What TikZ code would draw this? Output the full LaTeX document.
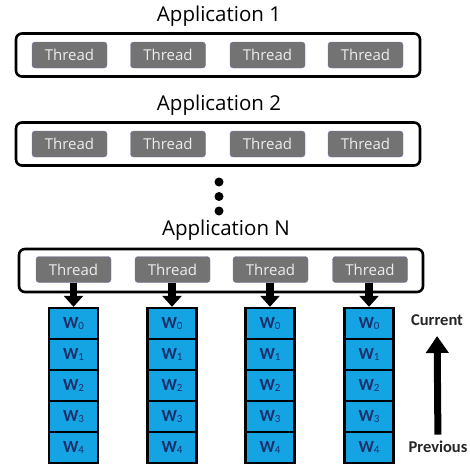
\documentclass[tikz,border=0pt]{standalone}
\usepackage{fontspec}
\setmainfont{Open Sans}
\newfontfamily\calfont{Carlito}
\usetikzlibrary{arrows.meta}
\definecolor{threadgray}{HTML}{737373}
\definecolor{cellblue}{HTML}{14A3E3}
\definecolor{wnavy}{HTML}{1B2F6A}
\tikzset{
    app/.style={draw, line width=2.6pt, rounded corners=6pt, minimum width=404pt, minimum height=43pt},
    thread/.style={fill=threadgray, draw=threadgray!75!blue!80!white, rounded corners=3pt, minimum width=75pt, minimum height=26pt, inner sep=0pt, text=white!93!black, font=\fontsize{15}{15}\selectfont},
    cell/.style={draw, fill=cellblue, line width=2.4pt, minimum width=49pt, minimum height=31pt, inner sep=0pt, text=wnavy, font=\calfont\bfseries\fontsize{17}{17}\selectfont},
    apptitle/.style={font=\fontsize{20.5}{20.5}\selectfont},
    push/.style={-{Triangle[width=19pt,length=11pt]}, line width=7.5pt},
    timeline/.style={-{Triangle[width=22pt,length=17pt]}, line width=7pt, shorten >=7pt, shorten <=3pt},
}
\newcommand{\wn}[1]{W\raisebox{-1.5pt}{\fontsize{11}{11}\selectfont\mdseries #1}}
\begin{document}
\begin{tikzpicture}[x=1pt, y=-1pt]
    \useasboundingbox (0,0) rectangle (470,463);
    % application 1
    \node[apptitle] (t1) at (219,16) {Application 1};
    \node[app] (a1) at (218,55) {};
    \node[thread] (a1th1) at (69.5,55) {Thread};
    \node[thread] (a1th2) at (168,55) {Thread};
    \node[thread] (a1th3) at (267.5,55) {Thread};
    \node[thread] (a1th4) at (365.5,55) {Thread};
    % application 2
    \node[apptitle] (t2) at (219,105) {Application 2};
    \node[app] (a2) at (218,144) {};
    \node[thread] (a2th1) at (69.5,144) {Thread};
    \node[thread] (a2th2) at (168,144) {Thread};
    \node[thread] (a2th3) at (267.5,144) {Thread};
    \node[thread] (a2th4) at (365.5,144) {Thread};
    % dots
    \fill (219,182) circle (4.5pt);
    \fill (219,196.5) circle (4.5pt);
    \fill (219,211) circle (4.5pt);
    % application N
    \node[apptitle] (tn) at (226,230) {Application N};
    \node[app] (an) at (221,270.5) {};
    \node[thread] (anth1) at (73.5,269.5) {Thread};
    \node[thread] (anth2) at (172.5,269.5) {Thread};
    \node[thread] (anth3) at (270.5,269.5) {Thread};
    \node[thread] (anth4) at (370,269.5) {Thread};
    % windows of thread 1
    \node[cell] (w10) at (73.5,323.5) {\wn{0}};
    \node[cell] (w11) at (73.5,354.5) {\wn{1}};
    \node[cell] (w12) at (73.5,385.5) {\wn{2}};
    \node[cell] (w13) at (73.5,416.5) {\wn{3}};
    \node[cell] (w14) at (73.5,447.5) {\wn{4}};
    % windows of thread 2
    \node[cell] (w20) at (172,323.5) {\wn{0}};
    \node[cell] (w21) at (172,354.5) {\wn{1}};
    \node[cell] (w22) at (172,385.5) {\wn{2}};
    \node[cell] (w23) at (172,416.5) {\wn{3}};
    \node[cell] (w24) at (172,447.5) {\wn{4}};
    % windows of thread 3
    \node[cell] (w30) at (270,323.5) {\wn{0}};
    \node[cell] (w31) at (270,354.5) {\wn{1}};
    \node[cell] (w32) at (270,385.5) {\wn{2}};
    \node[cell] (w33) at (270,416.5) {\wn{3}};
    \node[cell] (w34) at (270,447.5) {\wn{4}};
    % windows of thread 4
    \node[cell] (w40) at (369,323.5) {\wn{0}};
    \node[cell] (w41) at (369,354.5) {\wn{1}};
    \node[cell] (w42) at (369,385.5) {\wn{2}};
    \node[cell] (w43) at (369,416.5) {\wn{3}};
    \node[cell] (w44) at (369,447.5) {\wn{4}};
    \draw[push] (anth1.south -| w10.north) -- (w10.north);
    \draw[push] (anth2.south -| w20.north) -- (w20.north);
    \draw[push] (anth3.south -| w30.north) -- (w30.north);
    \draw[push] (anth4.south -| w40.north) -- (w40.north);
    % time direction
    \node[font=\calfont\bfseries\fontsize{16.5}{16.5}\selectfont, text=black!85] (cur) at (437,320) {Current};
    \node[font=\calfont\bfseries\fontsize{16.5}{16.5}\selectfont, text=black!85] (prev) at (438,447) {Previous};
    \draw[timeline] (prev) -- (cur);
\end{tikzpicture}
\end{document}
